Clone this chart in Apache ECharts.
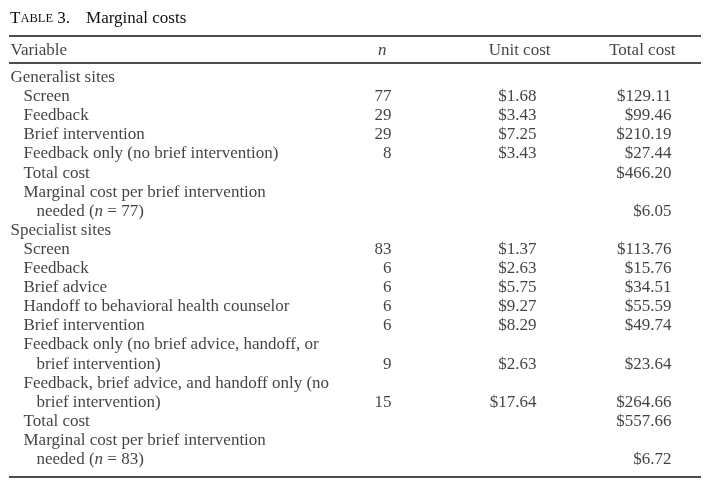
<!DOCTYPE html>
<html>
<head>
<meta charset="utf-8">
<script src="https://cdn.jsdelivr.net/npm/echarts@6/dist/echarts.min.js"></script>
<style>html,body{margin:0;padding:0;background:#fff}#c{width:706px;height:483px}</style>
</head>
<body>
<div id="c"></div>
<script>
// ---- DATA ----
const headers = ["Variable", "n", "Unit cost", "Total cost"];
const variables = [
  "Generalist sites",
  "Screen",
  "Feedback",
  "Brief intervention",
  "Feedback only (no brief intervention)",
  "Total cost",
  "Marginal cost per brief intervention",
  "needed (n = 77)",
  "Specialist sites",
  "Screen",
  "Feedback",
  "Brief advice",
  "Handoff to behavioral health counselor",
  "Brief intervention",
  "Feedback only (no brief advice, handoff, or",
  "brief intervention)",
  "Feedback, brief advice, and handoff only (no",
  "brief intervention)",
  "Total cost",
  "Marginal cost per brief intervention",
  "needed (n = 83)"
];
const indentLevel = [0,1,1,1,1,1,1,2,0,1,1,1,1,1,1,2,1,2,1,1,2];
const nValues   = [null,77,29,29,8,null,null,null,null,83,6,6,6,6,null,9,null,15,null,null,null];
const unitCosts = [null,1.68,3.43,7.25,3.43,null,null,null,null,1.37,2.63,5.75,9.27,8.29,null,2.63,null,17.64,null,null,null];
const totalCosts= [null,129.11,99.46,210.19,27.44,466.20,null,6.05,null,113.76,15.76,34.51,55.59,49.74,null,23.64,null,264.66,557.66,null,6.72];

// ---- LAYOUT (styling constants) ----
const W = 706, H = 483;
const FONT = '"Liberation Serif", "Times New Roman", serif';
const FS = 17;
const COLOR = '#111';
const indentX = [10, 23, 36];
const colRight = { n: 392, unit: 537, total: 672 };
const headRight = { n: 387, unit: 551, total: 676 };
const rowTop = 68, rowH = 19.1;

const rowIdx = variables.map((_, i) => i);
const fmtMoney = v => '$' + v.toFixed(2);

const baseLabel = {
  show: true, fontFamily: FONT, fontSize: FS, color: COLOR, fontWeight: 'normal',
  rich: { i: { fontFamily: FONT, fontSize: FS, color: COLOR, fontStyle: 'italic' } }
};
const textSeries = (data, pos, fmt, gridIdx) => ({
  type: 'scatter', xAxisIndex: gridIdx, yAxisIndex: gridIdx,
  symbol: 'rect', symbolSize: 1, itemStyle: { color: 'rgba(0,0,0,0)' },
  silent: true, animation: false,
  label: Object.assign({}, baseLabel, { position: pos, distance: 0, formatter: fmt }),
  labelLayout: { hideOverlap: false },
  data: data
});

const varData = variables.map((t, i) => ({ value: [indentX[indentLevel[i]], i], name: t }));
const nData = nValues.map((v, i) => v == null ? null : { value: [colRight.n, i], name: String(v) }).filter(Boolean);
const unitData = unitCosts.map((v, i) => v == null ? null : { value: [colRight.unit, i], name: fmtMoney(v) }).filter(Boolean);
const totData = totalCosts.map((v, i) => v == null ? null : { value: [colRight.total, i], name: fmtMoney(v) }).filter(Boolean);

const headLeft = [{ value: [indentX[0], 0], name: headers[0] }];
const headRightData = [
  { value: [headRight.n, 0], name: '{i|' + headers[1] + '}' },
  { value: [headRight.unit, 0], name: headers[2] },
  { value: [headRight.total, 0], name: headers[3] }
];

const nameFmt = p => p.name.replace(/\(n =/, '({i|n} =');

const chart = echarts.init(document.getElementById('c'), null, { renderer: 'canvas' });
chart.setOption({
  backgroundColor: '#fff',
  animation: false,
  title: {
    left: 10, top: 9, padding: 0,
    text: '{a|T}{b|ABLE}{a| 3.}{g|}{a|Marginal costs}',
    textStyle: {
      fontWeight: 'normal',
      rich: {
        a: { fontFamily: FONT, fontSize: FS, color: COLOR, lineHeight: 20, fontWeight: 'normal' },
        b: { fontFamily: FONT, fontSize: 12.5, color: COLOR, lineHeight: 20, fontWeight: 'normal' },
        g: { width: 16, lineHeight: 20 }
      }
    }
  },
  grid: [
    { left: 0, right: 0, top: rowTop, height: rowH * variables.length },
    { left: 0, right: 0, top: 41, height: 19 }
  ],
  xAxis: [
    { type: 'value', min: 0, max: W, show: false, gridIndex: 0 },
    { type: 'value', min: 0, max: W, show: false, gridIndex: 1 }
  ],
  yAxis: [
    { type: 'category', data: rowIdx, inverse: true, show: false, gridIndex: 0 },
    { type: 'category', data: [0], inverse: true, show: false, gridIndex: 1 }
  ],
  series: [
    textSeries(varData, 'right', nameFmt, 0),
    textSeries(nData, 'left', p => p.name, 0),
    textSeries(unitData, 'left', p => p.name, 0),
    textSeries(totData, 'left', p => p.name, 0),
    textSeries(headLeft, 'right', p => p.name, 1),
    textSeries(headRightData, 'left', p => p.name, 1)
  ],
  graphic: [
    { type: 'line', shape: { x1: 9, y1: 36, x2: 701, y2: 36 }, style: { stroke: '#111', lineWidth: 1.4 } },
    { type: 'line', shape: { x1: 9, y1: 63, x2: 701, y2: 63 }, style: { stroke: '#111', lineWidth: 1.4 } },
    { type: 'line', shape: { x1: 9, y1: 477, x2: 701, y2: 477 }, style: { stroke: '#111', lineWidth: 1.4 } }
  ]
});
</script>
</body>
</html>
